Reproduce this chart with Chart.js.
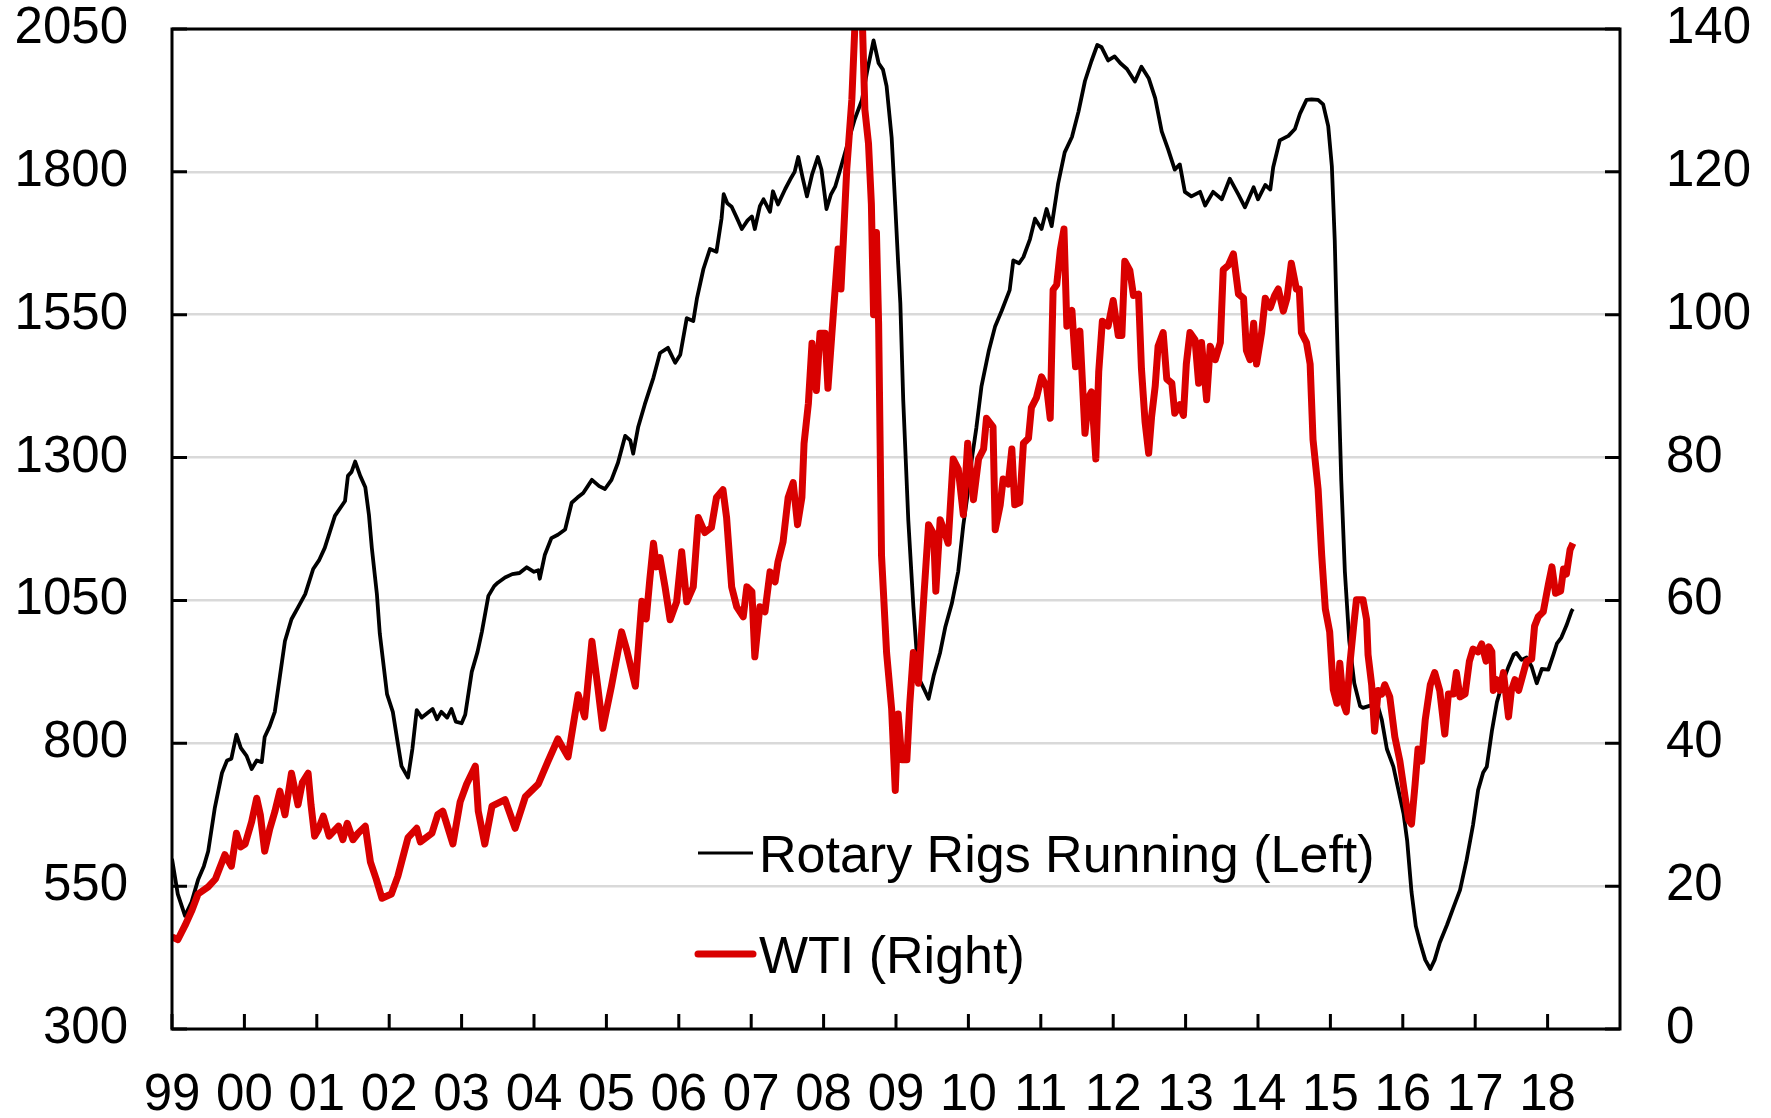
<!DOCTYPE html>
<html>
<head>
<meta charset="utf-8">
<title>Rotary Rigs Running vs WTI</title>
<script src="https://cdn.jsdelivr.net/npm/chart.js@4.4.1/dist/chart.umd.min.js"></script>
<style>
  html, body { margin: 0; padding: 0; background: #ffffff; }
  #wrap { width: 1771px; height: 1118px; }
</style>
</head>
<body>
<div id="wrap"><canvas id="chart" width="1771" height="1118"></canvas></div>
<script>
// Year ticks along the bottom axis and their two-digit labels
const yearTicks = [1999, 2000, 2001, 2002, 2003, 2004, 2005, 2006, 2007, 2008, 2009,
                   2010, 2011, 2012, 2013, 2014, 2015, 2016, 2017, 2018];
const yearLabels = ['99', '00', '01', '02', '03', '04', '05', '06', '07', '08', '09',
                    '10', '11', '12', '13', '14', '15', '16', '17', '18'];

// US rotary rigs running (decimal year, count)
const rigYears = [
  1999.00, 1999.08, 1999.18, 1999.27, 1999.36, 1999.44, 1999.50, 1999.59, 1999.69, 1999.76,
  1999.82, 1999.89, 1999.95, 2000.03, 2000.10, 2000.17, 2000.24, 2000.28, 2000.35, 2000.42,
  2000.49, 2000.56, 2000.65, 2000.75, 2000.84, 2000.95, 2001.03, 2001.11, 2001.18, 2001.25,
  2001.39, 2001.43, 2001.48, 2001.53, 2001.60, 2001.67, 2001.72, 2001.76, 2001.83, 2001.87,
  2001.97, 2002.05, 2002.12, 2002.17, 2002.26, 2002.32, 2002.38, 2002.45, 2002.52, 2002.60,
  2002.66, 2002.72, 2002.80, 2002.86, 2002.92, 2003.00, 2003.05, 2003.14, 2003.22, 2003.28,
  2003.37, 2003.45, 2003.50, 2003.60, 2003.70, 2003.80, 2003.90, 2004.00, 2004.06, 2004.08,
  2004.15, 2004.24, 2004.33, 2004.43, 2004.52, 2004.60, 2004.68, 2004.80, 2004.90, 2004.98,
  2005.07, 2005.16, 2005.26, 2005.33, 2005.37, 2005.44, 2005.53, 2005.65, 2005.74, 2005.85,
  2005.95, 2006.02, 2006.11, 2006.20, 2006.25, 2006.34, 2006.43, 2006.52, 2006.59, 2006.62,
  2006.67, 2006.73, 2006.80, 2006.87, 2006.95, 2007.01, 2007.05, 2007.12, 2007.17, 2007.26,
  2007.30, 2007.37, 2007.47, 2007.54, 2007.60, 2007.65, 2007.71, 2007.77, 2007.84, 2007.92,
  2007.97, 2008.04, 2008.10, 2008.16, 2008.23, 2008.32, 2008.43, 2008.53, 2008.60, 2008.69,
  2008.76, 2008.82, 2008.87, 2008.94, 2008.99, 2009.03, 2009.06, 2009.10, 2009.17, 2009.24,
  2009.31, 2009.38, 2009.45, 2009.52, 2009.61, 2009.68, 2009.77, 2009.86, 2009.93, 2009.98,
  2010.05, 2010.11, 2010.18, 2010.28, 2010.37, 2010.46, 2010.57, 2010.62, 2010.70, 2010.76,
  2010.85, 2010.92, 2011.01, 2011.08, 2011.15, 2011.24, 2011.33, 2011.43, 2011.52, 2011.61,
  2011.70, 2011.78, 2011.84, 2011.93, 2012.02, 2012.10, 2012.19, 2012.30, 2012.39, 2012.49,
  2012.58, 2012.67, 2012.76, 2012.85, 2012.92, 2012.99, 2013.08, 2013.20, 2013.27, 2013.38,
  2013.50, 2013.61, 2013.73, 2013.82, 2013.94, 2014.00, 2014.10, 2014.17, 2014.21, 2014.30,
  2014.42, 2014.51, 2014.58, 2014.67, 2014.74, 2014.83, 2014.90, 2014.97, 2015.02, 2015.06,
  2015.10, 2015.15, 2015.20, 2015.26, 2015.33, 2015.41, 2015.45, 2015.55, 2015.64, 2015.71,
  2015.78, 2015.87, 2015.94, 2016.01, 2016.06, 2016.12, 2016.18, 2016.24, 2016.31, 2016.38,
  2016.44, 2016.51, 2016.61, 2016.70, 2016.79, 2016.88, 2016.97, 2017.04, 2017.11, 2017.16,
  2017.23, 2017.30, 2017.37, 2017.46, 2017.53, 2017.57, 2017.64, 2017.71, 2017.78, 2017.85,
  2017.92, 2018.01, 2018.08, 2018.13, 2018.19, 2018.26, 2018.33, 2018.35
];
const rigCounts = [
  598, 536, 498, 522, 561, 585, 611, 686, 748, 770,
  773, 815, 792, 778, 755, 770, 767, 811, 830, 855,
  917, 979, 1017, 1040, 1061, 1105, 1120, 1142, 1170, 1198,
  1224, 1268, 1275, 1293, 1268, 1248, 1200, 1142, 1061, 992,
  886, 855, 799, 760, 740, 790, 858, 845, 852, 860,
  842, 855, 845, 860, 838, 835, 850, 925, 960, 995,
  1058, 1075, 1081, 1090, 1096, 1098, 1108, 1100, 1103, 1088,
  1130, 1159, 1165, 1174, 1221, 1230, 1238, 1261, 1250, 1245,
  1261, 1291, 1338, 1330, 1307, 1354, 1393, 1440, 1483, 1492,
  1466, 1480, 1544, 1539, 1578, 1630, 1665, 1660, 1718, 1761,
  1745, 1739, 1720, 1700, 1715, 1722, 1700, 1740, 1752, 1730,
  1766, 1743, 1770, 1787, 1800, 1826, 1790, 1757, 1795, 1826,
  1804, 1735, 1760, 1774, 1804, 1844, 1892, 1926, 1975, 2030,
  1990, 1979, 1950, 1860, 1740, 1640, 1570, 1400, 1190, 1039,
  915, 897, 878, 918, 959, 1003, 1044, 1101, 1182, 1227,
  1300, 1352, 1424, 1486, 1530, 1557, 1593, 1645, 1640, 1651,
  1682, 1718, 1700, 1735, 1705, 1780, 1834, 1861, 1905, 1959,
  1994, 2022, 2018, 1995, 2002, 1990, 1980, 1958, 1984, 1964,
  1929, 1871, 1839, 1804, 1813, 1765, 1757, 1765, 1741, 1765,
  1752, 1788, 1760, 1738, 1773, 1752, 1777, 1769, 1808, 1855,
  1863, 1875, 1902, 1926, 1927, 1926, 1918, 1880, 1810, 1680,
  1480, 1260, 1100, 980, 905, 865, 862, 866, 872, 841,
  790, 759, 718, 677, 630, 540, 480, 451, 421, 405,
  421, 451, 482, 513, 543, 595, 657, 718, 749, 759,
  821, 872, 903, 934, 955, 958, 946, 950, 934, 905,
  930, 929, 955, 975, 985, 1006, 1031, 1035
];

// WTI crude oil price, US$ per barrel (decimal year, price)
const wtiYears = [
  1999.00, 1999.08, 1999.18, 1999.27, 1999.36, 1999.50, 1999.60, 1999.73, 1999.82, 1999.89,
  1999.95, 2000.01, 2000.10, 2000.17, 2000.22, 2000.28, 2000.35, 2000.42, 2000.49, 2000.56,
  2000.65, 2000.74, 2000.80, 2000.88, 2000.92, 2000.97, 2001.02, 2001.09, 2001.17, 2001.30,
  2001.36, 2001.42, 2001.50, 2001.57, 2001.67, 2001.74, 2001.82, 2001.90, 2002.03, 2002.12,
  2002.20, 2002.26, 2002.38, 2002.43, 2002.59, 2002.67, 2002.74, 2002.88, 2002.98, 2003.07,
  2003.19, 2003.23, 2003.32, 2003.42, 2003.60, 2003.74, 2003.88, 2004.06, 2004.19, 2004.33,
  2004.47, 2004.61, 2004.70, 2004.80, 2004.88, 2004.95, 2005.07, 2005.21, 2005.28, 2005.40,
  2005.49, 2005.55, 2005.60, 2005.65, 2005.69, 2005.74, 2005.81, 2005.88, 2005.97, 2006.04,
  2006.11, 2006.20, 2006.27, 2006.36, 2006.45, 2006.52, 2006.61, 2006.66, 2006.73, 2006.80,
  2006.89, 2006.94, 2007.01, 2007.05, 2007.12, 2007.19, 2007.26, 2007.33, 2007.37, 2007.44,
  2007.51, 2007.58, 2007.64, 2007.70, 2007.73, 2007.79, 2007.84, 2007.90, 2007.95, 2008.02,
  2008.06, 2008.13, 2008.20, 2008.24, 2008.32, 2008.39, 2008.43, 2008.48, 2008.53, 2008.57,
  2008.62, 2008.66, 2008.69, 2008.73, 2008.76, 2008.80, 2008.87, 2008.94, 2008.99, 2009.03,
  2009.08, 2009.15, 2009.19, 2009.24, 2009.31, 2009.38, 2009.45, 2009.52, 2009.55, 2009.61,
  2009.68, 2009.72, 2009.79, 2009.86, 2009.93, 2009.99, 2010.07, 2010.14, 2010.21, 2010.25,
  2010.34, 2010.37, 2010.44, 2010.48, 2010.55, 2010.60, 2010.64, 2010.71, 2010.76, 2010.83,
  2010.87, 2010.94, 2011.01, 2011.08, 2011.13, 2011.17, 2011.22, 2011.27, 2011.32, 2011.36,
  2011.43, 2011.48, 2011.54, 2011.61, 2011.66, 2011.70, 2011.76, 2011.80, 2011.85, 2011.93,
  2012.00, 2012.07, 2012.12, 2012.16, 2012.23, 2012.28, 2012.35, 2012.39, 2012.44, 2012.49,
  2012.53, 2012.58, 2012.62, 2012.69, 2012.74, 2012.81, 2012.85, 2012.92, 2012.97, 2013.01,
  2013.06, 2013.13, 2013.18, 2013.22, 2013.29, 2013.34, 2013.41, 2013.48, 2013.52, 2013.59,
  2013.66, 2013.73, 2013.80, 2013.84, 2013.89, 2013.94, 2013.98, 2014.05, 2014.10, 2014.17,
  2014.23, 2014.28, 2014.35, 2014.40, 2014.46, 2014.53, 2014.57, 2014.60, 2014.67, 2014.72,
  2014.76, 2014.83, 2014.88, 2014.93, 2014.99, 2015.04, 2015.09, 2015.13, 2015.18, 2015.22,
  2015.27, 2015.32, 2015.36, 2015.45, 2015.50, 2015.52, 2015.57, 2015.61, 2015.66, 2015.71,
  2015.75, 2015.82, 2015.89, 2015.96, 2016.03, 2016.08, 2016.12, 2016.17, 2016.21, 2016.26,
  2016.31, 2016.38, 2016.44, 2016.51, 2016.58, 2016.63, 2016.70, 2016.74, 2016.79, 2016.86,
  2016.92, 2016.97, 2017.04, 2017.09, 2017.15, 2017.19, 2017.23, 2017.25, 2017.30, 2017.34,
  2017.39, 2017.46, 2017.50, 2017.55, 2017.60, 2017.64, 2017.71, 2017.78, 2017.82, 2017.87,
  2017.94, 2018.01, 2018.06, 2018.11, 2018.18, 2018.22, 2018.26, 2018.31, 2018.35
];
const wtiPrices = [
  12.9, 12.5, 14.5, 16.5, 18.9, 19.9, 21.0, 24.4, 22.8, 27.4,
  25.5, 25.9, 29.0, 32.3, 30.0, 24.9, 28.0, 30.4, 33.3, 30.0,
  35.8, 31.4, 34.5, 35.8, 31.4, 27.0, 27.9, 29.8, 27.0, 28.4,
  26.5, 28.8, 26.5, 27.4, 28.4, 23.4, 21.0, 18.3, 18.9, 21.4,
  24.5, 26.8, 28.1, 26.2, 27.4, 30.0, 30.5, 25.9, 31.8, 34.3,
  36.8, 30.5, 25.9, 31.2, 32.1, 28.1, 32.5, 34.3, 37.4, 40.6,
  38.1, 46.8, 43.7, 54.3, 48.0, 42.1, 48.0, 55.6, 53.1, 48.0,
  59.9, 57.4, 63.0, 68.0, 64.7, 66.0, 61.9, 57.3, 59.8, 66.8,
  59.8, 61.9, 71.6, 69.5, 70.2, 74.4, 75.5, 71.6, 61.9, 59.1,
  57.7, 61.9, 61.2, 52.1, 59.1, 58.4, 64.0, 62.6, 65.4, 68.2,
  74.4, 76.5, 70.6, 74.4, 82.0, 87.6, 96.0, 89.4, 97.4, 97.4,
  89.7, 99.5, 109.2, 103.6, 120.4, 130.1, 139.9, 145.0, 143.0, 128.7,
  124.0, 115.5, 100.0, 111.5, 98.7, 66.3, 52.7, 44.8, 33.4, 44.1,
  37.7, 37.7, 45.5, 52.7, 48.4, 59.8, 70.6, 69.3, 61.3, 71.3,
  69.3, 68.0, 79.8, 78.4, 72.0, 82.0, 74.1, 79.8, 81.2, 85.5,
  84.3, 69.9, 73.4, 77.0, 76.3, 81.2, 73.4, 73.7, 82.0, 82.7,
  87.0, 88.4, 91.3, 89.9, 85.5, 103.5, 104.2, 109.1, 112.0, 98.4,
  100.6, 92.7, 97.7, 83.4, 88.4, 89.2, 79.8, 92.0, 99.1, 98.4,
  102.0, 97.1, 97.1, 107.5, 106.2, 102.7, 102.9, 92.5, 85.0, 80.6,
  85.7, 90.0, 95.6, 97.5, 91.0, 90.4, 86.2, 87.4, 85.9, 93.1,
  97.5, 96.5, 90.4, 96.1, 88.1, 95.6, 93.7, 96.1, 106.3, 106.9,
  108.5, 102.9, 102.3, 95.0, 93.7, 98.8, 93.1, 97.5, 102.3, 101.0,
  102.7, 103.6, 100.5, 102.3, 107.2, 103.6, 103.6, 97.5, 96.1, 93.1,
  82.5, 75.6, 66.3, 58.8, 55.6, 47.5, 45.6, 51.2, 45.6, 44.4,
  51.2, 56.3, 60.1, 60.1, 57.3, 52.4, 48.2, 41.7, 47.4, 46.9,
  48.2, 46.5, 40.9, 37.5, 32.6, 29.3, 28.7, 34.3, 39.2, 37.5,
  43.3, 48.2, 49.9, 47.4, 41.3, 46.9, 46.9, 49.9, 46.5, 46.9,
  51.5, 53.2, 52.8, 53.9, 51.5, 53.5, 52.8, 47.4, 48.9, 47.4,
  49.9, 43.7, 47.4, 48.9, 47.4, 48.9, 51.5, 51.8, 56.4, 57.7,
  58.4, 62.2, 64.7, 61.0, 61.3, 64.4, 63.7, 67.1, 68.0
];

const toPoints = (xs, ys) => xs.map((x, i) => ({ x: x, y: ys[i] }));

const FONT = "'Liberation Sans', Arial, Helvetica, sans-serif";
const RED = '#d90000';

// Vertical axes: keep the plot area flush with the layout padding
const fixVertical = width => s => {
  s.width = width;
  s.paddingTop = 0;
  s.paddingBottom = 0;
};

// Frame around the plot, inward tick marks and the in-plot legend
const framePlugin = {
  id: 'frameAndTicks',
  afterDatasetsDraw(chart) {
    const { ctx, chartArea: a, scales } = chart;
    const len = 15;
    ctx.save();
    ctx.strokeStyle = '#000';
    ctx.lineWidth = 3;
    ctx.lineCap = 'butt';
    ctx.beginPath();
    scales.y.ticks.forEach(t => {
      const y = scales.y.getPixelForValue(t.value);
      ctx.moveTo(a.left, y); ctx.lineTo(a.left + len, y);
    });
    scales.y1.ticks.forEach(t => {
      const y = scales.y1.getPixelForValue(t.value);
      ctx.moveTo(a.right, y); ctx.lineTo(a.right - len, y);
    });
    scales.x.ticks.forEach(t => {
      const x = scales.x.getPixelForValue(t.value);
      ctx.moveTo(x, a.bottom); ctx.lineTo(x, a.bottom - len);
    });
    ctx.stroke();
    ctx.strokeRect(a.left, a.top, a.right - a.left, a.bottom - a.top);
    ctx.restore();
  },
  afterDraw(chart) {
    const { ctx, chartArea: a } = chart;
    const items = chart.data.datasets.map(ds => ({
      text: ds.label, color: ds.borderColor, width: ds.legendLineWidth
    }));
    const x0 = a.left + 526, x1 = a.left + 581, tx = a.left + 587;
    const rows = [a.top + 843, a.top + 944];
    ctx.save();
    ctx.font = '52px ' + FONT;
    ctx.fillStyle = '#000';
    ctx.textBaseline = 'alphabetic';
    ctx.textAlign = 'left';
    items.forEach((it, i) => {
      const base = rows[i];
      ctx.strokeStyle = it.color;
      ctx.lineWidth = it.width;
      ctx.lineCap = it.width > 4 ? 'round' : 'butt';
      ctx.beginPath();
      ctx.moveTo(x0, base - 19);
      ctx.lineTo(x1, base - 19);
      ctx.stroke();
      ctx.fillText(it.text, tx, base);
    });
    ctx.restore();
  }
};

new Chart(document.getElementById('chart'), {
  type: 'line',
  data: {
    datasets: [
      {
        label: 'Rotary Rigs Running (Left)',
        data: toPoints(rigYears, rigCounts),
        yAxisID: 'y',
        borderColor: '#000000',
        borderWidth: 3.8,
        legendLineWidth: 3,
        pointRadius: 0,
        tension: 0,
        borderJoinStyle: 'round',
        clip: 0,
        order: 2
      },
      {
        label: 'WTI (Right)',
        data: toPoints(wtiYears, wtiPrices),
        yAxisID: 'y1',
        borderColor: RED,
        borderWidth: 7,
        legendLineWidth: 7,
        pointRadius: 0,
        tension: 0,
        borderJoinStyle: 'round',
        clip: 0,
        order: 1
      }
    ]
  },
  options: {
    responsive: false,
    animation: false,
    devicePixelRatio: 1,
    layout: { padding: { top: 29, left: 0, right: 0, bottom: 0 } },
    plugins: {
      legend: { display: false },
      tooltip: { enabled: false }
    },
    scales: {
      x: {
        type: 'linear',
        position: 'bottom',
        min: 1999,
        max: 2019,
        afterBuildTicks: s => { s.ticks = yearTicks.map(v => ({ value: v })); },
        ticks: {
          autoSkip: false,
          maxRotation: 0,
          padding: 41,
          color: '#000',
          font: { family: FONT, size: 51, lineHeight: 1 },
          callback: v => yearLabels[yearTicks.indexOf(v)] ?? ''
        },
        grid: { display: false, drawTicks: false },
        border: { display: false },
        afterFit: s => { s.height = 89; }
      },
      y: {
        position: 'left',
        min: 300,
        max: 2050,
        ticks: {
          stepSize: 250,
          padding: 44,
          color: '#000',
          font: { family: FONT, size: 51, lineHeight: 1 },
          callback: v => String(v)
        },
        grid: { color: '#d9d9d9', lineWidth: 2.5, drawTicks: false },
        border: { display: false },
        afterFit: fixVertical(172)
      },
      y1: {
        position: 'right',
        min: 0,
        max: 140,
        ticks: {
          stepSize: 20,
          padding: 46,
          color: '#000',
          font: { family: FONT, size: 51, lineHeight: 1 },
          callback: v => String(v)
        },
        grid: { display: false, drawTicks: false },
        border: { display: false },
        afterFit: fixVertical(151)
      }
    }
  },
  plugins: [framePlugin]
});
</script>
</body>
</html>
